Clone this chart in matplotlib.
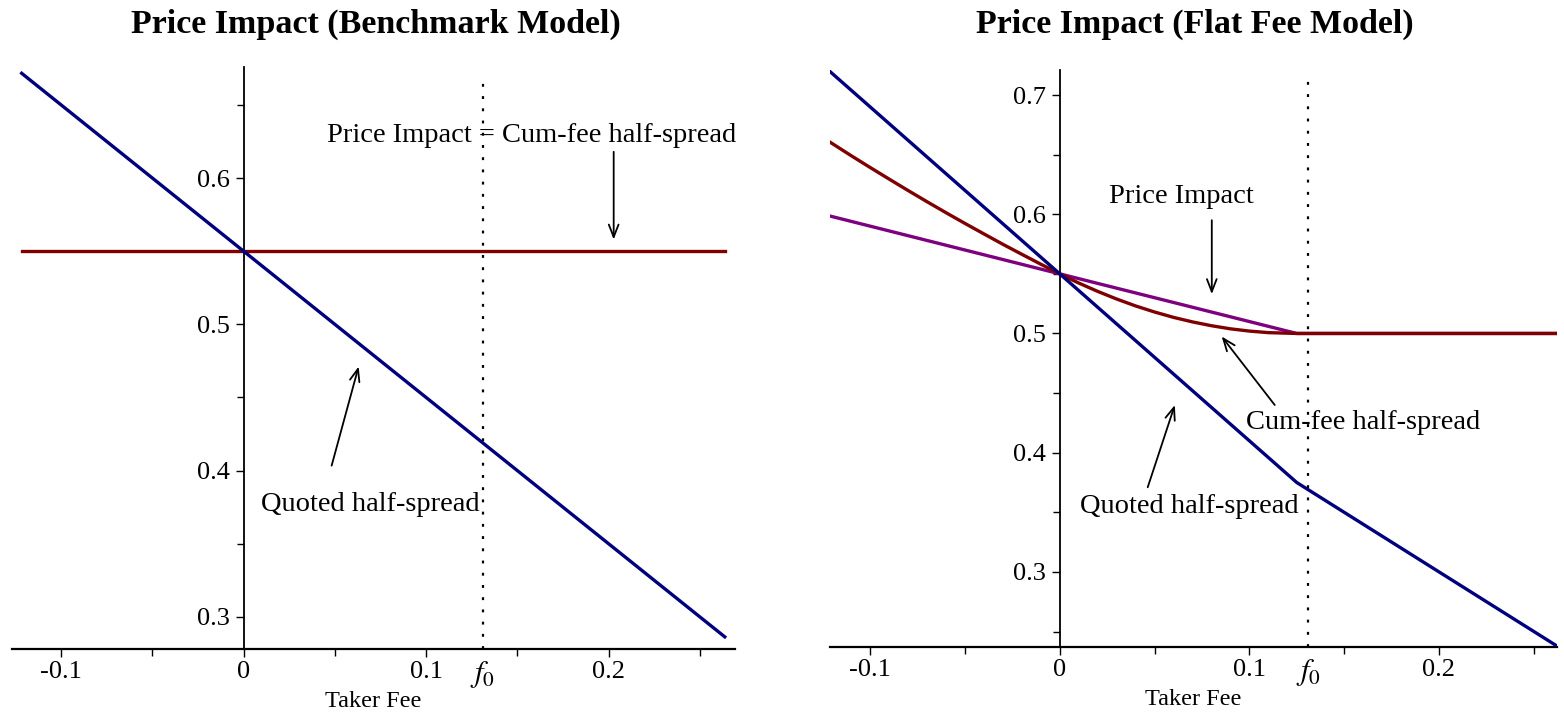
import matplotlib
matplotlib.use("Agg")
import matplotlib.pyplot as plt
from matplotlib.ticker import FixedLocator
from matplotlib.transforms import blended_transform_factory

plt.rcParams['font.family'] = ['Liberation Serif', 'DejaVu Serif']
plt.rcParams['mathtext.fontset'] = 'stix'

# ---------------- data ----------------
titles = ["Price Impact (Benchmark Model)", "Price Impact (Flat Fee Model)"]
xlabel = "Taker Fee"
f0 = 0.131

# Left panel (benchmark)
bm_x = [-0.1217, 0.2637]
bm_quoted = [0.6717, 0.2863]
bm_cumfee = [0.55, 0.55]

# Right panel (flat fee)
ff_quoted_x = [-0.1212, 0.0, 0.125, 0.2623]
ff_quoted_y = [0.7197, 0.55, 0.375, 0.2378]
ff_impact_x = [-0.1212, 0.0, 0.125, 0.2623]
ff_impact_y = [0.5985, 0.55, 0.50, 0.50]
ff_cumfee_x = [-0.1212, -0.11, -0.10, -0.09, -0.08, -0.07, -0.06, -0.05, -0.04,
               -0.03, -0.02, -0.01, 0.0, 0.01, 0.02, 0.03, 0.04, 0.05, 0.06,
               0.07, 0.08, 0.09, 0.10, 0.11, 0.125, 0.2623]
ff_cumfee_y = [0.6605, 0.6491, 0.6392, 0.6295, 0.6199, 0.6105, 0.6013, 0.5923,
               0.5835, 0.5748, 0.5664, 0.5581, 0.55, 0.5423, 0.5353, 0.5289,
               0.5231, 0.5180, 0.5135, 0.5097, 0.5065, 0.5039, 0.5020, 0.5007,
               0.50, 0.50]

x_major = [-0.1, 0.0, 0.1, 0.2]
x_major_labels = ["-0.1", "0", "0.1", "0.2"]
x_minor = [-0.05, 0.05, 0.15, 0.25]
yL_major = [0.3, 0.4, 0.5, 0.6]
yL_minor = [0.35, 0.45, 0.55, 0.65]
yR_major = [0.3, 0.4, 0.5, 0.6, 0.7]
yR_minor = [0.25, 0.35, 0.45, 0.55, 0.65]

NAVY = "#00007f"
MAROON = "#7f0000"
PURPLE = "#7f007f"

W, H = 1564, 715
fig = plt.figure(figsize=(W / 100, H / 100), dpi=100)
axL = fig.add_axes([12 / W, 1 - 649 / H, 723 / W, 582 / H])
axR = fig.add_axes([830 / W, 1 - 647 / H, 727 / W, 577 / H])


def style_axes(ax, xlim, ylim, ymaj, ymin_):
    ax.set_xlim(*xlim)
    ax.set_ylim(*ylim)
    ax.spines['top'].set_visible(False)
    ax.spines['right'].set_visible(False)
    ax.spines['left'].set_position(('data', 0))
    ax.spines['left'].set_linewidth(1.3)
    ax.spines['bottom'].set_linewidth(1.6)
    ax.xaxis.set_major_locator(FixedLocator(x_major))
    ax.set_xticklabels(x_major_labels)
    ax.xaxis.set_minor_locator(FixedLocator(x_minor))
    ax.yaxis.set_major_locator(FixedLocator(ymaj))
    ax.set_yticklabels([f"{v:.1f}" for v in ymaj])
    ax.yaxis.set_minor_locator(FixedLocator(ymin_))
    ax.tick_params(axis='x', which='major', direction='out', length=6,
                   width=1.0, labelsize=19, pad=3)
    ax.tick_params(axis='y', which='major', direction='out', length=6,
                   width=1.0, labelsize=19, pad=4)
    ax.tick_params(axis='both', which='minor', direction='out', length=5,
                   width=1.0)
    ax.patch.set_alpha(0)
    # f0 label
    tr = blended_transform_factory(ax.transData, ax.transAxes)
    ax.axvline(f0, ymin=0, ymax=0.985, color='black', lw=1.6,
               linestyle=(0, (1.3, 4.2)), zorder=1)
    ax.text(f0, -0.018, r"$f_0$", transform=tr, ha='center', va='top',
            fontsize=22)
    ax.text(0.5, -0.072, xlabel, transform=ax.transAxes, ha='center',
            va='top', fontsize=17.5)


style_axes(axL, (-0.127, 0.2693), (0.278, 0.676), yL_major, yL_minor)
style_axes(axR, (-0.1212, 0.2623), (0.237, 0.721), yR_major, yR_minor)

# Left panel lines
axL.plot(bm_x, bm_cumfee, color=MAROON, lw=2.4, zorder=3)
axL.plot(bm_x, bm_quoted, color=NAVY, lw=2.4, zorder=4)

# Right panel lines
axR.plot(ff_impact_x, ff_impact_y, color=PURPLE, lw=2.4, zorder=3)
axR.plot(ff_cumfee_x, ff_cumfee_y, color=MAROON, lw=2.4, zorder=4)
axR.plot(ff_quoted_x, ff_quoted_y, color=NAVY, lw=2.4, zorder=5)

arrow = dict(arrowstyle='->,head_length=0.9,head_width=0.35', lw=1.3,
             color='black', shrinkA=0, shrinkB=0)
fs = 20.5

# Left annotations
axL.text(0.158, 0.629, "Price Impact = Cum-fee half-spread", ha='center',
         va='center', fontsize=fs)
axL.annotate("", xy=(0.2028, 0.558), xytext=(0.2028, 0.618), arrowprops=arrow)
axL.text(0.0696, 0.377, "Quoted half-spread", ha='center', va='center',
         fontsize=fs)
axL.annotate("", xy=(0.0630, 0.4712), xytext=(0.0482, 0.4034),
             arrowprops=arrow)

# Right annotations
axR.text(0.0643, 0.615, "Price Impact", ha='center', va='center', fontsize=fs)
axR.annotate("", xy=(0.0802, 0.533), xytext=(0.0802, 0.595), arrowprops=arrow)
axR.text(0.160, 0.425, "Cum-fee half-spread", ha='center', va='center',
         fontsize=fs)
axR.annotate("", xy=(0.0854, 0.4975), xytext=(0.1134, 0.440),
             arrowprops=arrow)
axR.text(0.0686, 0.355, "Quoted half-spread", ha='center', va='center',
         fontsize=fs)
axR.annotate("", xy=(0.0607, 0.440), xytext=(0.0464, 0.371),
             arrowprops=arrow)

# Titles
fig.text(376 / W, 1 - 24 / H, titles[0], ha='center', va='center',
         fontsize=24.5, fontweight='bold')
fig.text(1195 / W, 1 - 24 / H, titles[1], ha='center', va='center',
         fontsize=24.5, fontweight='bold')

fig.savefig("out.png", dpi=100)
